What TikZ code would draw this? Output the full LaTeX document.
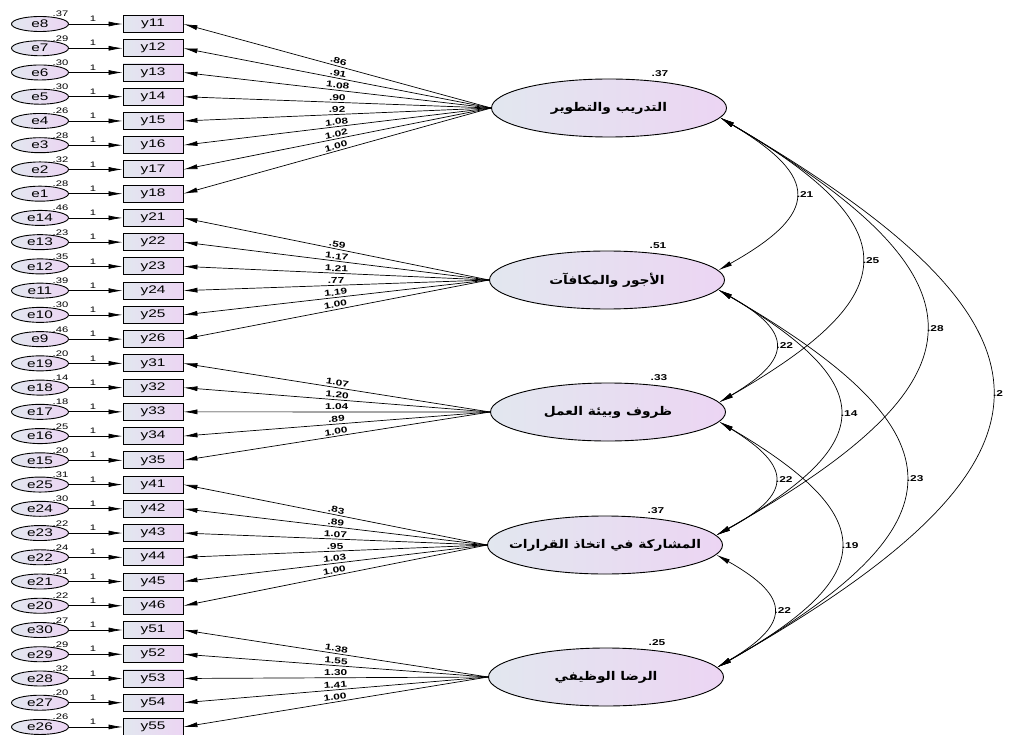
\documentclass[tikz,border=0pt]{standalone}
\usepackage{fontspec}
\setmainfont{Liberation Sans}[FakeStretch=1.4]
\newfontfamily\arabicfont[Script=Arabic,FakeStretch=1.15]{DejaVu Sans}
\TeXXeTstate=1
\usepackage{tikz}
\usetikzlibrary{arrows.meta,shapes,positioning}

\definecolor{shadeL}{RGB}{226,231,239}
\definecolor{shadeR}{RGB}{236,213,243}

\begin{document}
\begin{tikzpicture}[x=1pt, y=1pt, ->, >={Latex[length=14pt,width=5pt]}, line width=0.7pt]

	\tikzstyle{latent}=[ellipse,draw,line width=0.9pt,left color=shadeL,right color=shadeR,minimum width=235pt,minimum height=58pt,inner sep=0pt]
	\tikzstyle{ftext}=[font=\arabicfont\bfseries\fontsize{12}{14}\selectfont]
	\tikzstyle{err}=[ellipse,draw,line width=0.9pt,left color=shadeL,right color=shadeR,minimum width=57pt,minimum height=15pt,inner sep=0pt,font=\fontsize{11}{12}\selectfont]
	\tikzstyle{obs}=[rectangle,draw,line width=0.9pt,left color=shadeL,right color=shadeR,minimum width=60pt,minimum height=17pt,inner sep=0pt,font=\fontsize{11}{12}\selectfont]
	\tikzstyle{num}=[inner sep=1.5pt,font=\bfseries\fontsize{8.5}{10}\selectfont]
	\tikzstyle{var}=[inner sep=1pt,font=\fontsize{8}{10}\selectfont]
	\tikzstyle{cov}=[<->,bend left=60,looseness=1.95]

	\useasboundingbox (0,0) rectangle (1016,-735);

	% errors and indicators
	\foreach \e/\y/\v [count=\i from 0] in {8/11/.37,7/12/.29,6/13/.30,5/14/.30,4/15/.26,3/16/.28,2/17/.32,1/18/.28,
		14/21/.46,13/22/.23,12/23/.35,11/24/.39,10/25/.30,9/26/.46,
		19/31/.20,18/32/.14,17/33/.18,16/34/.25,15/35/.20,
		25/41/.31,24/42/.30,23/43/.22,22/44/.24,21/45/.21,20/46/.22,
		30/51/.27,29/52/.29,28/53/.32,27/54/.20,26/55/.26}
	{
		\node[err] (e\e) at (40,{-24-24.24*\i}) {e\e};
		\node[obs] (y\y) at (153,{-24-24.24*\i}) {y\y};
		\path (e\e) edge node[var,above=1pt,pos=.45] {1} (y\y);
		\node[var,above=0pt of e\e.north east] {\v};
	}

	% latent factors
	\node[latent,label={[ftext]center:\beginR التدريب والتطوير\endR}] (F1) at (609,-108) {};
	\node[latent,label={[ftext]center:\beginR الأجور والمكافآت\endR}] (F2) at (607,-280) {};
	\node[latent,label={[ftext]center:\beginR ظروف وبيئة العمل\endR}] (F3) at (608,-412) {};
	\node[latent,label={[ftext]center:\beginR المشاركة في اتخاذ القرارات\endR}] (F4) at (605,-545) {};
	\node[latent,label={[ftext]center:\beginR الرضا الوظيفي\endR}] (F5) at (606,-677) {};

	\node[num,above=0pt of F1.north,xshift=51pt] {.37};
	\node[num,above=0pt of F2.north,xshift=51pt] {.51};
	\node[num,above=0pt of F3.north,xshift=51pt] {.33};
	\node[num,above=0pt of F4.north,xshift=51pt] {.37};
	\node[num,above=0pt of F5.north,xshift=51pt] {.25};

	% loadings
	\foreach \y/\w in {11/.86,12/.91,13/1.08,14/.90,15/.92,16/1.08,17/1.02,18/1.00}
		\path (F1.west) edge node[num,above,sloped] {\w} (y\y.east);
	\foreach \y/\w in {21/.59,22/1.17,23/1.21,24/.77,25/1.19,26/1.00}
		\path (F2.west) edge node[num,above,sloped] {\w} (y\y.east);
	\foreach \y/\w in {31/1.07,32/1.20,33/1.04,34/.89,35/1.00}
		\path (F3.west) edge node[num,above,sloped] {\w} (y\y.east);
	\foreach \y/\w in {41/.83,42/.89,43/1.07,44/.95,45/1.03,46/1.00}
		\path (F4.west) edge node[num,above,sloped] {\w} (y\y.east);
	\foreach \y/\w in {51/1.38,52/1.55,53/1.30,54/1.41,55/1.00}
		\path (F5.west) edge node[num,above,sloped] {\w} (y\y.east);

	% covariances
	\path (F1.-5) edge[cov] node[num,right] {.21} (F2.5);
	\path (F1.-5) edge[cov] node[num,right] {.25} (F3.5);
	\path (F1.-5) edge[cov] node[num,right] {.28} (F4.5);
	\path (F1.-5) edge[cov] node[num,right] {.2} (F5.5);
	\path (F2.-5) edge[cov] node[num,right] {.22} (F3.5);
	\path (F2.-5) edge[cov] node[num,right] {.14} (F4.5);
	\path (F2.-5) edge[cov] node[num,right] {.23} (F5.5);
	\path (F3.-5) edge[cov] node[num,right] {.22} (F4.5);
	\path (F3.-5) edge[cov] node[num,right] {.19} (F5.5);
	\path (F4.-5) edge[cov] node[num,right] {.22} (F5.5);

\end{tikzpicture}
\end{document}
